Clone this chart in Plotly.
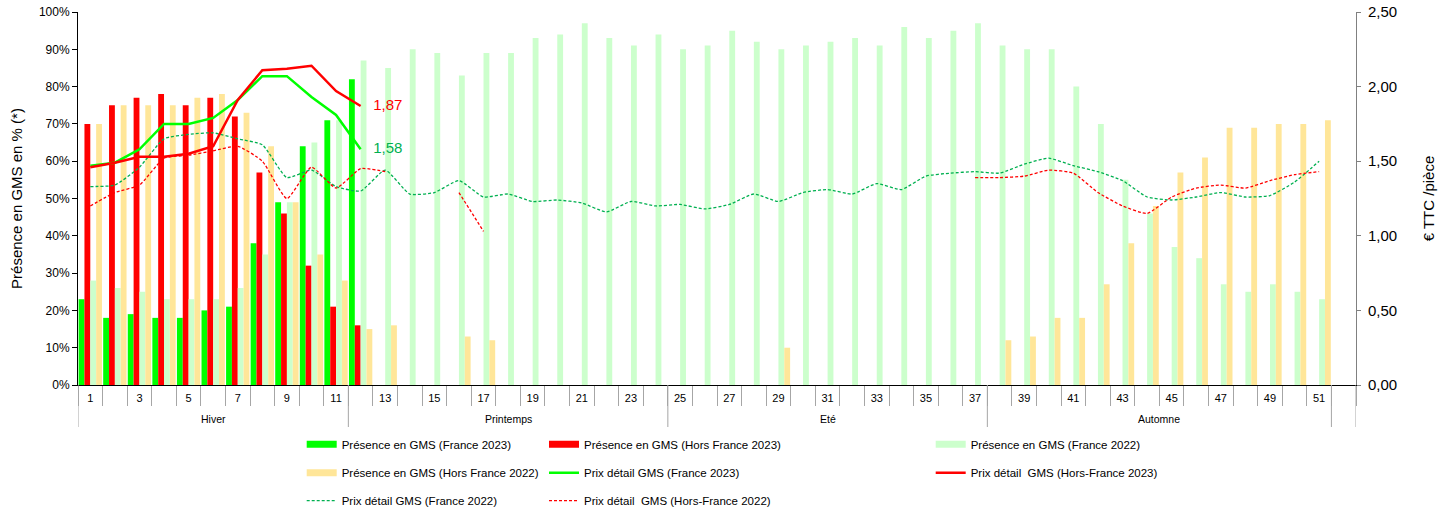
import plotly.graph_objects as go

N = None
WEEKS = list(range(1, 53))
WEEK_LABELS = [str(w) if w % 2 == 1 else "" for w in WEEKS]

# Presence in GMS (fraction of stores)
PRES_FR_2023 = [0.23, 0.18, 0.19, 0.18, 0.18, 0.20, 0.21, 0.38, 0.49, 0.64, 0.71, 0.82] + [N] * 40
PRES_HF_2023 = [0.70, 0.75, 0.77, 0.78, 0.75, 0.77, 0.72, 0.57, 0.46, 0.32, 0.21, 0.16] + [N] * 40
PRES_FR_2022 = [0.28, 0.26, 0.25, 0.23, 0.23, 0.23, 0.26, 0.35, 0.49, 0.65, 0.71, 0.87,
                0.85, 0.90, 0.89, 0.83, 0.89, 0.89, 0.93, 0.94, 0.97, 0.93, 0.91, 0.94,
                0.90, 0.91, 0.95, 0.92, 0.90, 0.91, 0.92, 0.93, 0.91, 0.96, 0.93, 0.95, 0.97,
                0.91, 0.90, 0.90, 0.80, 0.70, 0.55, 0.46, 0.37, 0.34, 0.27, 0.25, 0.27, 0.25, 0.23,
                N]
PRES_HF_2022 = [0.70, 0.75, 0.75, 0.75, 0.77, 0.78, 0.73, 0.64, 0.49, 0.35, 0.28, 0.15,
                0.16, N, N, 0.13, 0.12, N, N, N, N, N, N, N,
                N, N, N, N, 0.10, N, N, N, N, N, N, N, N,
                0.12, 0.13, 0.18, 0.18, 0.27, 0.38, 0.48, 0.57, 0.61, 0.69, 0.69, 0.70, 0.70, 0.71,
                N]

# Retail prices (EUR incl. VAT / piece)
PRIX_FR_2023 = [1.47, 1.49, 1.58, 1.75, 1.75, 1.79, 1.91, 2.07, 2.07, 1.93, 1.81, 1.58] + [N] * 40
PRIX_HF_2023 = [1.46, 1.49, 1.53, 1.53, 1.55, 1.60, 1.91, 2.11, 2.12, 2.14, 1.97, 1.87] + [N] * 40
PRIX_FR_2022 = [1.33, 1.34, 1.46, 1.65, 1.68, 1.69, 1.65, 1.61, 1.39, 1.44, 1.33, 1.30,
                1.44, 1.28, 1.29, 1.37, 1.26, 1.28, 1.23, 1.24, 1.22, 1.16, 1.23, 1.20,
                1.21, 1.18, 1.21, 1.28, 1.23, 1.29, 1.31, 1.28, 1.35, 1.31, 1.40, 1.42, 1.43,
                1.42, 1.48, 1.52, 1.47, 1.43, 1.37, 1.26, 1.24, 1.26, 1.29, 1.26, 1.27, 1.36, 1.50,
                N]
PRIX_HF_2022 = [1.20, 1.29, 1.34, 1.52, 1.54, 1.57, 1.60, 1.50, 1.25, 1.46, 1.32, 1.45,
                1.43, N, N, 1.29, 1.03] + [N] * 19 + \
               [1.39, 1.39, 1.40, 1.44, 1.42, 1.29, 1.20, 1.15, 1.26, 1.32, 1.34, 1.32, 1.37, 1.41, 1.43,
                N]

SEASONS = ["Hiver", "Printemps", "Eté", "Automne"]
SEASON_START = [1, 12, 25, 38]
SEASON_END = [11, 24, 37, 51]

LEFT_TICKS = [i / 10 for i in range(11)]
RIGHT_TICKS = [0, 0.5, 1.0, 1.5, 2.0, 2.5]

FONT = "Liberation Sans, Arial, sans-serif"
C_GREEN = "#00FF00"
C_RED = "#FF0000"
C_LGREEN = "#CCFFCC"
C_YELLOW = "#FFE699"
C_DGREEN = "#00B050"

fig = go.Figure()

bars = [
    ("Présence en GMS (France 2023)", PRES_FR_2023, C_GREEN, "legend"),
    ("Présence en GMS (Hors France 2023)", PRES_HF_2023, C_RED, "legend4"),
    ("Présence en GMS (France 2022)", PRES_FR_2022, C_LGREEN, "legend7"),
    ("Présence en GMS (Hors France 2022)", PRES_HF_2022, C_YELLOW, "legend2"),
]
for name, vals, col, lg in bars:
    fig.add_trace(go.Bar(x=WEEKS, y=vals, name=name, marker=dict(color=col, line=dict(width=0)),
                         showlegend=False, yaxis="y"))
    # legend swatch (wide rectangle like the original)
    fig.add_trace(go.Scatter(x=[None], y=[None], name=name, mode="lines",
                             line=dict(color=col, width=7), legend=lg, yaxis="y", hoverinfo="skip"))


def last_label(vals):
    out = [""] * len(vals)
    idx = max(i for i, v in enumerate(vals) if v is not None)
    out[idx] = "   " + f"{vals[idx]:.2f}".replace(".", ",")
    return out


fig.add_trace(go.Scatter(x=WEEKS, y=PRIX_FR_2022, name="Prix détail GMS (France 2022)", mode="lines",
                         line=dict(color=C_DGREEN, width=1.3, dash="3px,2px", shape="spline", smoothing=0.5),
                         yaxis="y2", legend="legend3", connectgaps=False))
fig.add_trace(go.Scatter(x=WEEKS, y=PRIX_HF_2022, name="Prix détail\u00a0 GMS (Hors-France 2022)", mode="lines",
                         line=dict(color=C_RED, width=1.3, dash="3px,2px", shape="spline", smoothing=0.5),
                         yaxis="y2", legend="legend6", connectgaps=False))
fig.add_trace(go.Scatter(x=WEEKS, y=PRIX_FR_2023, name="Prix détail GMS (France 2023)", mode="lines+text",
                         text=last_label(PRIX_FR_2023), textposition="middle right",
                         textfont=dict(color=C_DGREEN, size=15, family=FONT),
                         line=dict(color=C_GREEN, width=2.5), yaxis="y2", legend="legend5"))
fig.add_trace(go.Scatter(x=WEEKS, y=PRIX_HF_2023, name="Prix détail\u00a0 GMS (Hors-France 2023)", mode="lines+text",
                         text=last_label(PRIX_HF_2023), textposition="middle right",
                         textfont=dict(color=C_RED, size=15, family=FONT),
                         line=dict(color=C_RED, width=2.5), yaxis="y2", legend="legend8"))

# layout geometry (body margin is removed by the post script)
W, H = 1451, 516
PL, PR, PT, PB = 78, 1356, 12, 385     # plot area in pixels
L, R, T, B = PL, W - PR, PT, H - PB
PW, PH = PR - PL, PB - PT


def py(pix):  # pixel y -> paper y
    return (PB - pix) / PH


def px(pix):
    return (pix - PL) / PW


legend_pos = {
    "legend": (341.7, 444.3), "legend2": (341.7, 472.7), "legend3": (341.7, 500.7),
    "legend4": (584, 444.3), "legend5": (584, 472.7), "legend6": (584, 500.7),
    "legend7": (970.7, 444.3), "legend8": (970.7, 472.7),
}
legends = {}
for k, (tx, ty) in legend_pos.items():
    legends[k] = dict(x=px(tx - 40), y=py(ty), xanchor="left", yanchor="middle",
                      font=dict(family=FONT, size=11.5, color="#000"), bgcolor="rgba(0,0,0,0)",
                      borderwidth=0, orientation="v", tracegroupgap=0)

shapes = []
bounds = [s - 0.5 for s in SEASON_START] + [SEASON_END[-1] + 0.5, WEEKS[-1] + 0.5]
for b in bounds:
    shapes.append(dict(type="line", xref="x", yref="paper", x0=b, x1=b, y0=0, y1=py(427),
                       line=dict(color="#A6A6A6", width=1)))

annotations = []
for name, s, e in zip(SEASONS, SEASON_START, SEASON_END):
    annotations.append(dict(x=(s + e) / 2, y=py(419), xref="x", yref="paper", text=name, showarrow=False,
                            font=dict(family=FONT, size=10.5, color="#000"), xanchor="center", yanchor="middle"))

fig.update_layout(
    width=W, height=H,
    margin=dict(l=L, r=R, t=T, b=B, autoexpand=False),
    paper_bgcolor="white", plot_bgcolor="white",
    barmode="group", bargap=0.05, bargroupgap=0,
    separators=", ",
    font=dict(family=FONT, color="#000"),
    showlegend=True,
    shapes=shapes, annotations=annotations,
    xaxis=dict(range=[0.5, 52.5], tickmode="array", tickvals=WEEKS, ticktext=WEEK_LABELS,
               ticks="outside", ticklen=3, tickcolor="rgba(0,0,0,0)",
               tickfont=dict(size=11, family=FONT, color="#000"),
               minor=dict(ticks="outside", ticklen=20, tickcolor="#A6A6A6", tickwidth=1,
                          tickmode="linear", tick0=0.5, dtick=1),
               showline=True, linecolor="#000", linewidth=1, showgrid=False, zeroline=False,
               fixedrange=True),
    yaxis=dict(range=[0, 1], tickmode="array", tickvals=LEFT_TICKS, tickformat=".0%",
               ticks="outside", ticklen=5, tickcolor="#000",
               tickfont=dict(size=12, family=FONT, color="#000"),
               showline=True, linecolor="#000", linewidth=1, showgrid=False, zeroline=False,
               title=dict(text="Présence en GMS en % (*)", font=dict(size=15, family=FONT, color="#000"),
                          standoff=12)),
    yaxis2=dict(range=[0, 2.5], overlaying="y", side="right", tickmode="array", tickvals=RIGHT_TICKS,
                tickformat=".2f", ticks="outside", ticklen=4, tickcolor="#808080",
                tickfont=dict(size=15, family=FONT, color="#000"), ticklabelstandoff=4,
                showline=True, linecolor="#808080", linewidth=1, showgrid=False, zeroline=False,
                title=dict(text="€ TTC /pièce", font=dict(size=15, family=FONT, color="#000"), standoff=27)),
    **legends,
)

fig.write_html("out.html", config={"displayModeBar": False},
               post_script="document.body.style.margin='0px';")
